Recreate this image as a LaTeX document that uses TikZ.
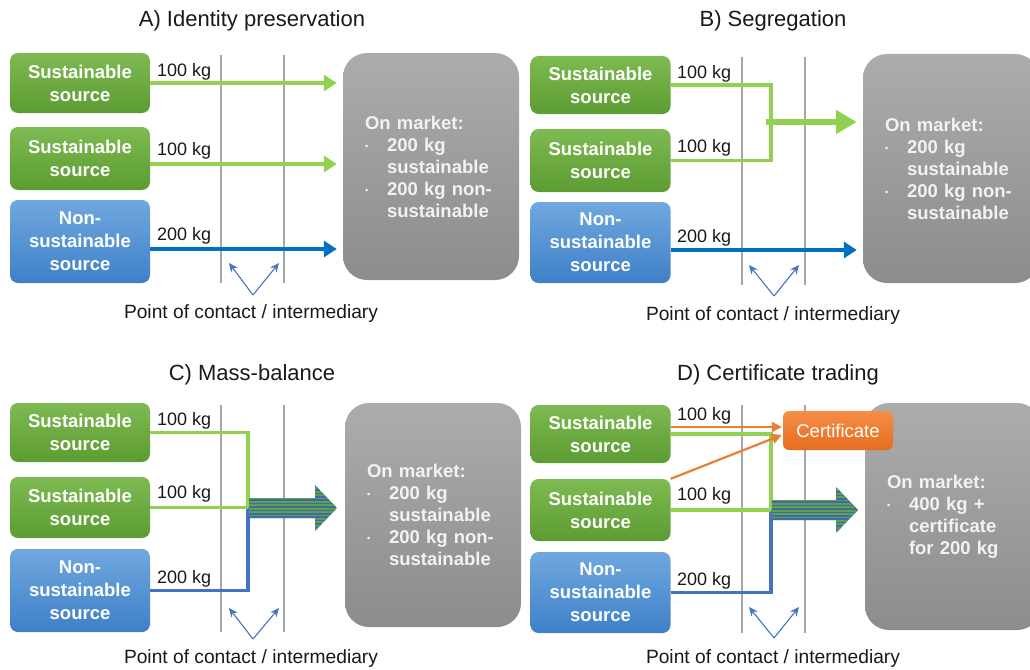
\documentclass[tikz,border=0pt]{standalone}
\usepackage{fontspec}
\setmainfont{Liberation Sans}
\usetikzlibrary{arrows.meta,calc}

\definecolor{gtop}{RGB}{126,186,82}
\definecolor{gbot}{RGB}{92,156,50}
\definecolor{btop}{RGB}{112,168,222}
\definecolor{bbot}{RGB}{62,128,200}
\definecolor{mtop}{RGB}{172,172,172}
\definecolor{mbot}{RGB}{140,140,140}
\definecolor{mtext}{RGB}{242,242,242}
\definecolor{otop}{RGB}{245,142,72}
\definecolor{obot}{RGB}{230,108,30}
\definecolor{orange1}{RGB}{237,125,49}
\definecolor{lgreen}{RGB}{146,208,80}
\definecolor{dblue}{RGB}{0,112,192}
\definecolor{mblue}{RGB}{68,114,196}
\definecolor{vblue}{RGB}{68,114,196}
\definecolor{vgray}{RGB}{166,166,166}
\definecolor{txt}{RGB}{25,25,25}
\definecolor{sgreen}{RGB}{96,160,74}
\definecolor{sblue}{RGB}{62,108,170}

% bullet and hanging indent for the market lists
\newcommand\mbul{\makebox[22pt][l]{\raisebox{2pt}{\fontsize{9}{9}\selectfont\textbullet}}}
\newcommand\mind{\hspace*{22pt}}

% striped block arrow: #1 start x, #2 head base x, #3 tip x, #4 axis y
\newcommand\stripedarrow[4]{%
  \begin{scope}
    \clip (#1,#4-10) -- (#2,#4-10) -- (#2,#4-23) -- (#3,#4) -- (#2,#4+23)
          -- (#2,#4+10) -- (#1,#4+10) -- cycle;
    \fill[sblue] (#1,#4-24) rectangle (#3,#4+24);
    \foreach \k in {0,...,14}
      \fill[sgreen] (#1,#4-24+\k*3.4) rectangle (#3,#4-24+\k*3.4+1.7);
  \end{scope}}

\begin{document}
\begin{tikzpicture}[x=1pt,y=-1pt,
  src/.style={rounded corners=8pt, minimum width=140pt, inner sep=0pt,
    align=center, text=white, font=\bfseries\fontsize{18.5}{23}\selectfont},
  gsrc/.style={src, top color=gtop, bottom color=gbot},
  bsrc/.style={src, top color=btop, bottom color=bbot},
  market/.style={rounded corners=24pt, top color=mtop, bottom color=mbot,
    text width=132pt, inner xsep=22pt, inner ysep=0pt, align=left, text=mtext,
    font=\bfseries\fontsize{18.5}{22}\selectfont},
  certbox/.style={rounded corners=6pt, top color=otop, bottom color=obot,
    minimum width=110pt, minimum height=39pt, inner sep=0pt, text=white,
    font=\fontsize{18.5}{22}\selectfont},
  lbl/.style={font=\fontsize{18}{22}\selectfont, text=txt, inner sep=0pt},
  plbl/.style={font=\fontsize{19.2}{22}\selectfont, text=txt, inner sep=0pt},
  ttl/.style={font=\fontsize{22}{26}\selectfont, text=txt, inner sep=0pt},
  vline/.style={draw=vgray, line width=2.6pt},
  garrow/.style={draw=lgreen, line width=3.6pt, -{Triangle[length=13pt,width=16pt]}},
  barrow/.style={draw=dblue, line width=3.6pt, -{Triangle[length=13pt,width=16pt]}},
  gline/.style={draw=lgreen, line width=3.6pt},
  bline/.style={draw=mblue, line width=3.4pt},
  gthick/.style={draw=lgreen, line width=6.5pt, -{Triangle[length=21pt,width=23pt]}},
  oarrow/.style={draw=orange1, line width=2.2pt, -{Triangle[length=10pt,width=10pt]}},
  varrow/.style={draw=vblue, line width=1.1pt, -{Stealth[length=9pt,width=8pt]}}
]
\useasboundingbox (0,0) rectangle (1030,669);

%% ---------------- A) Identity preservation ----------------
\node[ttl, anchor=base] (tA) at (252,27) {A) Identity preservation};
\node[market, minimum height=227pt] (mA) at (431,166.5)
  {On market:\\\mbul 200 kg\\\mind sustainable\\\mbul 200 kg non-\\\mind sustainable};
\draw[vline] (221,55) -- (221,283);
\draw[vline] (284,55) -- (284,283);
\node[gsrc, minimum height=60pt] (A1) at (80,83) {Sustainable\\source};
\node[gsrc, minimum height=63pt] (A2) at (80,158.5) {Sustainable\\source};
\node[bsrc, minimum height=83pt] (A3) at (80,241.5) {Non-\\sustainable\\source};
\draw[garrow] (A1.east) -- ($(mA.west |- A1.east)+(-6,0)$);
\draw[garrow] ($(A2.east)+(0,5.5)$) -- ($(mA.west |- A2.east)+(-6,5.5)$);
\draw[barrow] ($(A3.east)+(0,7.5)$) -- ($(mA.west |- A3.east)+(-6,7.5)$);
\node[lbl, anchor=base west] (lA1) at (157,76) {100 kg};
\node[lbl, anchor=base west] (lA2) at (157,155) {100 kg};
\node[lbl, anchor=base west] (lA3) at (157,240) {200 kg};
\coordinate (vA) at (253,295);
\coordinate (vA1) at (229,263);
\coordinate (vA2) at (279,263);
\draw[varrow] (vA) -- (vA1);
\draw[varrow] (vA) -- (vA2);
\node[plbl, anchor=base] (pA) at (251,318) {Point of contact / intermediary};

%% ---------------- B) Segregation ----------------
\node[ttl, anchor=base] (tB) at (773,27) {B) Segregation};
\node[market, minimum height=229pt] (mB) at (951,168.5)
  {On market:\\\mbul 200 kg\\\mind sustainable\\\mbul 200 kg non-\\\mind sustainable};
\draw[vline] (742,57) -- (742,285);
\draw[vline] (805,57) -- (805,285);
\node[gsrc, minimum height=58pt] (B1) at (600.5,85) {Sustainable\\source};
\node[gsrc, minimum height=63pt] (B2) at (600.5,160.5) {Sustainable\\source};
\node[bsrc, minimum height=81pt] (B3) at (600.5,242.5) {Non-\\sustainable\\source};
\coordinate (jB) at (771,122);
\draw[gline] (B1.east) -| (jB) |- (B2.east);
\draw[gthick] ($(jB)+(-5,0)$) -- ($(mB.west |- jB)+(-6,0)$);
\draw[barrow] ($(B3.east)+(0,7.5)$) -- ($(mB.west |- B3.east)+(-6,7.5)$);
\node[lbl, anchor=base west] (lB1) at (677,78) {100 kg};
\node[lbl, anchor=base west] (lB2) at (677,152) {100 kg};
\node[lbl, anchor=base west] (lB3) at (677,242) {200 kg};
\coordinate (vB) at (774,296);
\coordinate (vB1) at (749,265);
\coordinate (vB2) at (799,265);
\draw[varrow] (vB) -- (vB1);
\draw[varrow] (vB) -- (vB2);
\node[plbl, anchor=base] (pB) at (773,320) {Point of contact / intermediary};

%% ---------------- C) Mass-balance ----------------
\node[ttl, anchor=base] (tC) at (252,380) {C) Mass-balance};
\node[market, minimum height=224pt] (mC) at (433,515)
  {On market:\\\mbul 200 kg\\\mind sustainable\\\mbul 200 kg non-\\\mind sustainable};
\draw[vline] (221,405) -- (221,632);
\draw[vline] (284,405) -- (284,632);
\node[gsrc, minimum height=59pt] (C1) at (80,432.5) {Sustainable\\source};
\node[gsrc, minimum height=61pt] (C2) at (80,507.5) {Sustainable\\source};
\node[bsrc, minimum height=83pt] (C3) at (80,590.5) {Non-\\sustainable\\source};
\coordinate (jC) at (248,508);
\draw[bline] (C3.east) -| (jC);
\draw[gline] (C1.east) -| (jC);
\draw[gline] (C2.east) -- (C2.east -| jC);
\stripedarrow{249}{315}{337}{508}
\node[lbl, anchor=base west] (lC1) at (157,425) {100 kg};
\node[lbl, anchor=base west] (lC2) at (157,498) {100 kg};
\node[lbl, anchor=base west] (lC3) at (157,583) {200 kg};
\coordinate (vC) at (253,639);
\coordinate (vC1) at (229,608);
\coordinate (vC2) at (279,608);
\draw[varrow] (vC) -- (vC1);
\draw[varrow] (vC) -- (vC2);
\node[plbl, anchor=base] (pC) at (251,663) {Point of contact / intermediary};

%% ---------------- D) Certificate trading ----------------
\node[ttl, anchor=base] (tD) at (778,380) {D) Certificate trading};
\node[market, minimum height=227pt] (mD) at (953,516.5)
  {On market:\\\mbul 400 kg +\\\mind certificate\\\mind for 200 kg};
\draw[vline] (742,405) -- (742,633);
\draw[vline] (805,405) -- (805,633);
\node[gsrc, minimum height=58pt] (D1) at (600.5,434) {Sustainable\\source};
\node[gsrc, minimum height=62pt] (D2) at (600.5,510) {Sustainable\\source};
\node[bsrc, minimum height=81pt] (D3) at (600.5,592.5) {Non-\\sustainable\\source};
\node[certbox] (cert) at (838,430.5) {Certificate};
\coordinate (jD) at (771,510);
\draw[bline] (D3.east) -| (jD);
\draw[gline] (D1.east) -| (jD);
\draw[gline] (D2.east) -- (D2.east -| jD);
\draw[oarrow] ($(D1.east)+(0,-7)$) -- ($(cert.west |- D1.east)+(-1,-7)$);
\draw[oarrow] (D2.north east) -- ($(cert.west)+(-1,4.5)$);
\stripedarrow{772}{836}{858}{510}
\node[lbl, anchor=base west] (lD1) at (677,420) {100 kg};
\node[lbl, anchor=base west] (lD2) at (677,500) {100 kg};
\node[lbl, anchor=base west] (lD3) at (677,585) {200 kg};
\coordinate (vD) at (774,638);
\coordinate (vD1) at (749,607);
\coordinate (vD2) at (799,607);
\draw[varrow] (vD) -- (vD1);
\draw[varrow] (vD) -- (vD2);
\node[plbl, anchor=base] (pD) at (773,663) {Point of contact / intermediary};
\end{tikzpicture}
\end{document}
